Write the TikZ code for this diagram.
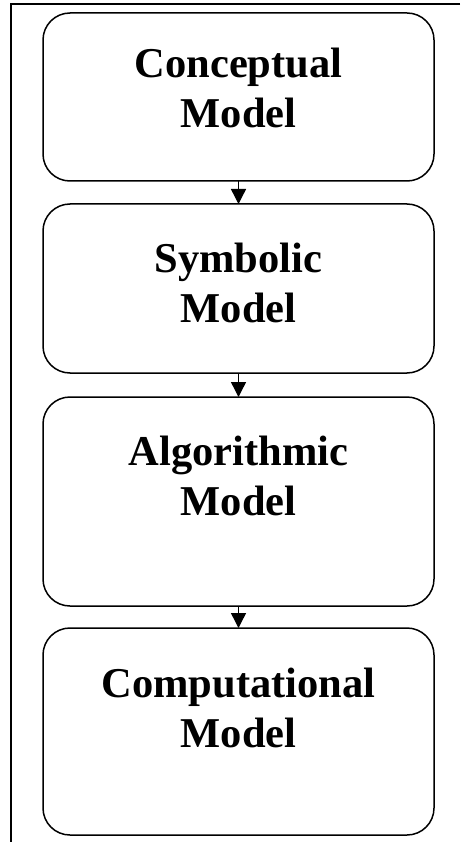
\documentclass[tikz,border=0pt]{standalone}
\usepackage{fontspec}
\setmainfont{Liberation Serif}
\usetikzlibrary{arrows.meta}
\begin{document}
\begin{tikzpicture}[x=1pt,y=-1pt,
  frameline/.style={line width=1.4pt},
  modelbox/.style={draw, line width=1.5pt, rounded corners=27pt, minimum width=391pt, inner sep=0pt, outer sep=0pt},
  boxtext/.style={anchor=base, inner sep=0pt, font=\fontsize{42.5}{50}\selectfont\bfseries},
  flow/.style={line width=1.4pt, -{Triangle[width=15pt,length=15pt]}}]
\useasboundingbox (0,0) rectangle (460,842);
% frame lines
\coordinate (tl) at (11,4);
\coordinate (tr) at (460,4);
\coordinate (bl) at (11,842);
\draw[frameline] (tr) -- (tl) -- (bl);
% boxes
\node[modelbox, minimum height=168pt] (b1) at (238.5,97) {};
\node[modelbox, minimum height=169pt] (b2) at (238.5,288.5) {};
\node[modelbox, minimum height=209pt] (b3) at (238.5,501.5) {};
\node[modelbox, minimum height=207pt] (b4) at (238.5,731.5) {};
% texts
\node[boxtext] (t1a) at (238.5,78) {Conceptual};
\node[boxtext] (t1b) at (238.5,128) {Model};
\node[boxtext] (t2a) at (238.5,272) {Symbolic};
\node[boxtext] (t2b) at (238.5,322) {Model};
\node[boxtext] (t3a) at (238.5,465) {Algorithmic};
\node[boxtext] (t3b) at (238.5,515) {Model};
\node[boxtext] (t4a) at (238.5,697) {Computational};
\node[boxtext] (t4b) at (238.5,747) {Model};
% arrows
\draw[flow] (b1.south) -- (b2.north);
\draw[flow] (b2.south) -- (b3.north);
\draw[flow] (b3.south) -- (b4.north);
\end{tikzpicture}
\end{document}
